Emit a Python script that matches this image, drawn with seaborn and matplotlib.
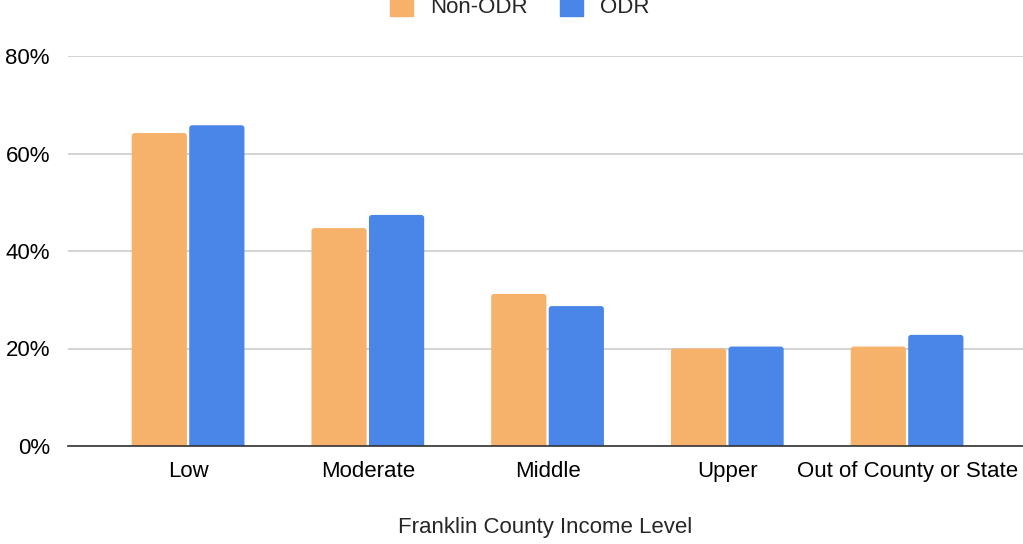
import matplotlib
matplotlib.use("Agg")
import matplotlib.pyplot as plt
import seaborn as sns
import pandas as pd
from matplotlib.patches import FancyBboxPatch
from matplotlib.ticker import FuncFormatter

# Share of cases by Franklin County income level (%)
categories = ["Low", "Moderate", "Middle", "Upper", "Out of County or State"]
non_odr = [64.2, 44.7, 31.2, 20.0, 20.4]
odr = [65.8, 47.4, 28.7, 20.4, 22.8]
series_names = ["Non-ODR", "ODR"]
y_ticks = [0, 20, 40, 60, 80]

df = pd.DataFrame({
    "level": categories * 2,
    "group": [series_names[0]] * len(categories) + [series_names[1]] * len(categories),
    "value": non_odr + odr,
})

sns.set_style("white")
plt.rcParams["font.family"] = ["Liberation Sans", "DejaVu Sans"]

fig = plt.figure(figsize=(10.23, 5.44), dpi=100)
ax = fig.add_axes([68 / 1023, (544 - 446) / 544, 1 - 68 / 1023, (446 - 56) / 544])

palette = {"Non-ODR": "#F6B26B", "ODR": "#4A86E8"}
sns.barplot(data=df, x="level", y="value", hue="group", palette=palette,
            width=0.64, gap=0.04, ax=ax, legend=False, saturation=1,
            linewidth=0)

ax.set_ylim(0, 80)
ax.set_xlim(-0.668, 4.645)

# Give the bars slightly rounded top corners (bottom corners sit below the axis)
px_x = 1 / 180.0     # data units per pixel, horizontally
px_y = 1 / 4.875     # data units per pixel, vertically
radius = 3 * px_x
for bar in list(ax.patches):
    x, y = bar.get_x(), bar.get_y()
    w, h = bar.get_width(), bar.get_height()
    fb = FancyBboxPatch((x, y - 2), w, h + 2,
                        boxstyle=f"round,pad=0,rounding_size={radius}",
                        mutation_aspect=px_y / px_x,
                        facecolor=bar.get_facecolor(), edgecolor="none",
                        zorder=bar.get_zorder(), clip_on=True)
    bar.set_visible(False)
    ax.add_patch(fb)

ax.set_yticks(y_ticks)
ax.yaxis.set_major_formatter(FuncFormatter(lambda v, _: f"{v:.0f}%"))
ax.grid(axis="y", color="#cccccc", linewidth=1.2, zorder=0)
ax.set_axisbelow(True)
for s in ["top", "right", "left"]:
    ax.spines[s].set_visible(False)
ax.spines["bottom"].set_color("#333333")
ax.spines["bottom"].set_linewidth(1.2)
ax.spines["bottom"].set_zorder(5)
ax.tick_params(axis="both", length=0, labelsize=16, colors="#000000")
ax.tick_params(axis="y", pad=13)
ax.tick_params(axis="x", pad=11)
ax.set_ylabel("")
ax.set_xlabel("Franklin County Income Level", fontsize=16, labelpad=25)

handles = [plt.Rectangle((0, 0), 1, 1, color=palette[n]) for n in series_names]
fig.legend(handles, series_names, loc="center", bbox_to_anchor=(0.508, 1 - 7 / 544),
           ncol=2, frameon=False, fontsize=16, handlelength=1.05, handleheight=1.0,
           columnspacing=1.45, handletextpad=0.75)

fig.savefig("out.png", dpi=100)
